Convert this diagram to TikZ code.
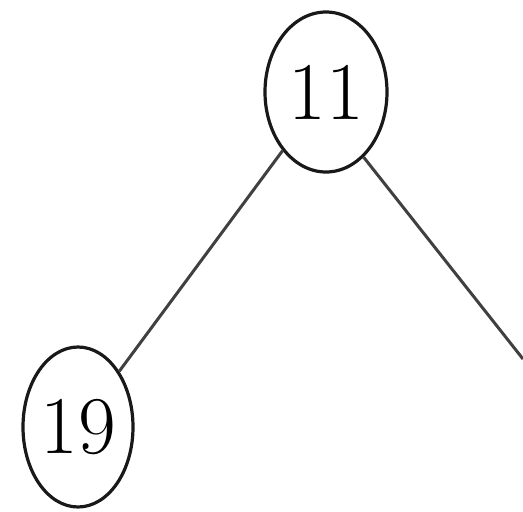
\documentclass[tikz,border=0pt]{standalone}
\usetikzlibrary{shapes.geometric}
\begin{document}
\begin{tikzpicture}[x=1pt,y=1pt,
  treenode/.style={draw=black!90, line width=3.2pt, ellipse, inner sep=0pt, font=\fontsize{82}{90}\selectfont},
  edge/.style={draw=black!75, line width=3pt}]
\useasboundingbox (0,0) rectangle (523,-512);
\node[treenode, minimum width=122pt, minimum height=160pt] (a) at (326,-92) {11};
\node[treenode, minimum width=110pt, minimum height=160pt] (b) at (78,-427) {19};
\coordinate (c) at (523,-359);
\draw[edge] (a) -- (b);
\draw[edge] (a.300) -- (c);
\end{tikzpicture}
\end{document}
